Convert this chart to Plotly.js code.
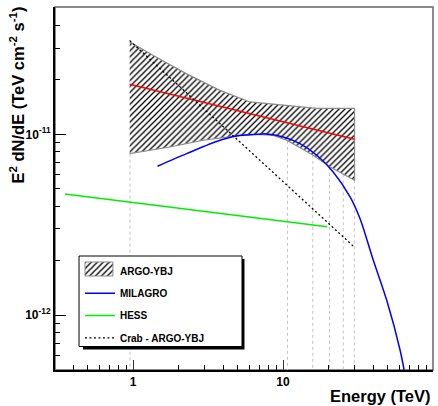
<!DOCTYPE html>
<html><head><meta charset="utf-8">
<script src="https://cdn.plot.ly/plotly-3.0.1.min.js"></script>
<style>html,body{margin:0;padding:0;background:#fff}</style>
</head><body><div id="chart" style="width:438px;height:406px"></div>
<script>
// Energy in TeV, flux as E^2 dN/dE in TeV cm^-2 s^-1
const argoBandUpperE = [0.95, 1.365, 2.28, 3.80, 6.03, 10.05, 16.8, 30];
const argoBandUpperF = [3.25e-11, 2.73e-11, 2.16e-11, 1.75e-11, 1.51e-11, 1.445e-11, 1.39e-11, 1.39e-11];
const argoBandLowerE = [0.95, 1.765, 2.94, 4.66, 6.68, 8.61, 10.6, 15.9, 20.6, 30];
const argoBandLowerF = [7.82e-12, 8.51e-12, 9.27e-12, 9.75e-12, 1.0e-11, 9.87e-12, 9.27e-12, 7.66e-12, 6.59e-12, 5.57e-12];
const argoFitE = [0.95, 30];
const argoFitF = [1.89e-11, 9.4e-12];
const milagroE = [1.457, 2.28, 3.80, 5.17, 6.68, 7.79, 10.05, 12.98, 16.8, 21.6, 28.0, 32.6, 40.0, 49.1, 60.3, 66.0];
const milagroF = [6.66e-12, 7.82e-12, 9.27e-12, 9.87e-12, 1.0e-11, 1.005e-11, 9.66e-12, 8.88e-12, 7.66e-12, 6.19e-12, 4.51e-12, 3.42e-12, 2.01e-12, 1.21e-12, 6.41e-13, 4.4e-13];
const hessE = [0.352, 19.7];
const hessF = [4.67e-12, 3.08e-12];
const crabE = [0.95, 30];
const crabF = [3.30e-11, 2.37e-12];
const binEdgeE = [0.955, 10.7, 15.8, 20.4, 25.2, 29.9];
const binEdgeTopF = [7.82e-12, 9.2e-12, 7.7e-12, 6.6e-12, 6.0e-12, 5.57e-12];

const seriesNames = ['ARGO-YBJ', 'MILAGRO', 'HESS', 'Crab - ARGO-YBJ'];

const xTickVals = [1, 10, 100];
const xTickText = ['1', '10', '10<sup>2</sup>'];
const yTickVals = [1e-12, 1e-11];
const yTickText = ['10<sup>-12</sup>', '10<sup>-11</sup>'];

const xRange = [-0.52, 2.0];
const yRange = [-12.304, -10.2956];

const FONT = 'Liberation Sans, Arial, Helvetica, sans-serif';
const HATCH = {shape: '/', fgcolor: '#000000', bgcolor: 'rgba(0,0,0,0)', size: 4.2, solidity: 0.3};

const xMinor = [];
[0.1, 1, 10].forEach(d => { for (let k = 2; k <= 9; k++) xMinor.push(k * d); });
const yMinor = [];
[1e-13, 1e-12, 1e-11].forEach(d => { for (let k = 2; k <= 9; k++) yMinor.push(k * d); });

const gridX = [], gridY = [];
binEdgeE.forEach((e, i) => { gridX.push(e, e, null); gridY.push(binEdgeTopF[i], Math.pow(10, yRange[0]) * 0.9, null); });

const bandX = argoBandUpperE.concat(argoBandLowerE.slice().reverse());
const bandY = argoBandUpperF.concat(argoBandLowerF.slice().reverse());

// legend frame drawn on an inset (unit) axis pair
const L = {x2: 'x2', y2: 'y2'};
const traces = [
  {x: gridX, y: gridY, mode: 'lines', line: {color: '#c0c0c0', width: 1, dash: 'dot'}, showlegend: false, hoverinfo: 'skip'},
  {x: bandX, y: bandY, mode: 'lines', fill: 'toself', showlegend: false,
   line: {color: '#8c8c8c', width: 1.2}, fillcolor: 'rgba(0,0,0,0)', fillpattern: HATCH},
  {x: argoFitE, y: argoFitF, mode: 'lines', line: {color: '#ff0000', width: 1.5}, showlegend: false},
  {x: [null], y: [null], mode: 'lines', name: seriesNames[0], legendgroup: 'a', line: {color: 'rgba(0,0,0,0)', width: 1}},
  {x: milagroE, y: milagroF, mode: 'lines', name: seriesNames[1], legendgroup: 'b', line: {color: '#0000ff', width: 1.5, shape: 'spline', smoothing: 0.8}},
  {x: hessE, y: hessF, mode: 'lines', name: seriesNames[2], legendgroup: 'c', line: {color: '#00ee00', width: 1.5}},
  {x: crabE, y: crabF, mode: 'lines', name: seriesNames[3], legendgroup: 'd', line: {color: '#000000', width: 1.3, dash: '2px,2.5px'}},
  // legend shadow, box and hatched sample
  {xaxis: 'x2', yaxis: 'y2', x: [0.024, 1, 1, 0.024, 0.024], y: [0, 0, 0.968, 0.968, 0], mode: 'lines', fill: 'toself',
   fillcolor: '#000', line: {width: 0}, showlegend: false, hoverinfo: 'skip'},
  {xaxis: 'x2', yaxis: 'y2', x: [0, 0.985, 0.985, 0, 0], y: [0.032, 0.032, 1, 1, 0.032], mode: 'lines', fill: 'toself',
   fillcolor: '#fff', line: {color: '#000', width: 1}, showlegend: false, hoverinfo: 'skip'},
  {xaxis: 'x2', yaxis: 'y2', x: [0.036, 0.205, 0.205, 0.036, 0.036], y: [0.786, 0.786, 0.936, 0.936, 0.786], mode: 'lines', fill: 'toself',
   fillcolor: 'rgba(0,0,0,0)', fillpattern: HATCH, line: {color: '#8c8c8c', width: 1}, showlegend: false, hoverinfo: 'skip'}
];

const layout = {
  width: 438, height: 406,
  margin: {l: 55, r: 5, t: 7, b: 36},
  paper_bgcolor: '#ffffff', plot_bgcolor: 'rgba(0,0,0,0)',
  font: {family: FONT, color: '#000000'},
  showlegend: true,
  legend: {x: 0.066, y: 0.313, xanchor: 'left', yanchor: 'top', bgcolor: 'rgba(0,0,0,0)', borderwidth: 0,
           font: {family: FONT, size: 10, weight: 'bold', color: '#000'}, tracegroupgap: 3.3},
  xaxis: {type: 'log', range: xRange, showgrid: false, zeroline: false,
          showline: true, linecolor: '#000', linewidth: 2,
          ticks: 'inside', ticklen: 10, tickwidth: 1, tickcolor: '#333',
          tickmode: 'array', tickvals: xTickVals, ticktext: xTickText,
          tickfont: {family: FONT, size: 12, weight: 'bold', color: '#000'},
          minor: {tickmode: 'array', tickvals: xMinor, ticks: 'inside', ticklen: 5, tickwidth: 1, tickcolor: '#000', showgrid: false}},
  yaxis: {type: 'log', range: yRange, showgrid: false, zeroline: false,
          showline: true, linecolor: '#000', linewidth: 2,
          ticks: 'inside', ticklen: 11, tickwidth: 1, tickcolor: '#000',
          tickmode: 'array', tickvals: yTickVals, ticktext: yTickText,
          tickfont: {family: FONT, size: 12, weight: 'bold', color: '#000'},
          minor: {tickmode: 'array', tickvals: yMinor, ticks: 'inside', ticklen: 5, tickwidth: 1, tickcolor: '#000', showgrid: false}},
  xaxis2: {domain: [0.0548, 0.5100], range: [-0.02, 1.02], visible: false, fixedrange: true, anchor: 'y2'},
  yaxis2: {domain: [0.0513, 0.3192], range: [-0.02, 1.02], visible: false, fixedrange: true, anchor: 'x2'},
  shapes: [
    {type: 'rect', xref: 'paper', yref: 'paper', x0: 0, x1: 1, y0: 0, y1: 1, line: {color: '#666', width: 1.5}, layer: 'below'}
  ],
  annotations: [
    {text: 'Energy (TeV)', xref: 'paper', yref: 'paper', x: 1, y: -0.0725, xanchor: 'right', yanchor: 'middle', showarrow: false,
     font: {family: FONT, size: 16.5, weight: 'bold', color: '#000'}},
    {text: 'E<sup>2</sup> dN/dE (TeV cm<sup>-2</sup> s<sup>-1</sup>)', xref: 'paper', yref: 'paper', x: -0.1005, y: 1.0055,
     xanchor: 'center', yanchor: 'top', textangle: -90, showarrow: false,
     font: {family: FONT, size: 16.5, weight: 'bold', color: '#000'}}
  ]
};

Plotly.newPlot('chart', traces, layout, {displayModeBar: false, staticPlot: true});
</script>
</body></html>
